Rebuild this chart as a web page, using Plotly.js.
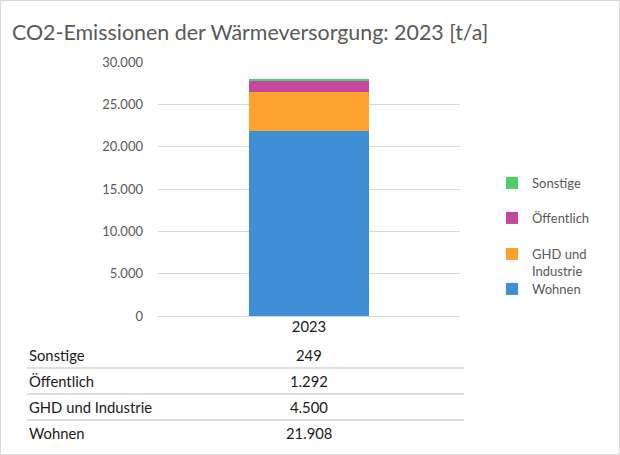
<!DOCTYPE html>
<html>
<head>
<meta charset="utf-8">
<script src="https://cdn.plot.ly/plotly-3.0.1.min.js"></script>
<style>
html,body{margin:0;padding:0;background:#fff;}
#chart{width:620px;height:455px;position:relative;}
#frame{position:absolute;left:0;top:0;width:618px;height:453px;border:1px solid #d9d9d9;pointer-events:none;}
</style>
</head>
<body>
<div id="chart"></div>
<div id="frame"></div>
<script>
const categories = ['2023'];
const seriesNames = ['Wohnen', 'GHD und Industrie', 'Öffentlich', 'Sonstige'];
const legendLabels = ['Wohnen', 'GHD und<br>Industrie', 'Öffentlich', 'Sonstige'];
const wohnen = [21908];
const ghd = [4500];
const oeffentlich = [1292];
const sonstige = [249];
const yTickVals = [0, 5000, 10000, 15000, 20000, 25000, 30000];

const seriesValues = [wohnen, ghd, oeffentlich, sonstige];
const colors = ['#3f8fd6', '#ffa12e', '#c5479d', '#4dd06a'];
const FONT = 'Lato, "Open Sans", sans-serif';

// plot area geometry (pixels)
const L = 158, R = 160, T = 62, B = 139;
const W = 620 - L - R, H = 455 - T - B;
const px = x => (x - L) / W;
const py = y => (455 - B - y) / H;

function fmt(v) {
  return String(Math.round(v)).replace(/\B(?=(\d{3})+(?!\d))/g, '.');
}

const legendNames = ['legend4', 'legend3', 'legend2', 'legend'];
const legendY = [289, 254, 218, 183];

const traces = seriesValues.map((vals, i) => ({
  type: 'bar',
  x: categories,
  y: vals,
  name: legendLabels[i],
  marker: {color: colors[i], line: {width: 0}},
  width: 0.4,
  legend: legendNames[i],
  hoverinfo: 'skip'
}));

const layout = {
  width: 620,
  height: 455,
  barmode: 'stack',
  separators: ',.',
  paper_bgcolor: '#ffffff',
  plot_bgcolor: '#ffffff',
  margin: {l: L, r: R, t: T, b: B},
  font: {family: FONT, color: '#595959'},
  title: {
    text: 'CO2-Emissionen der Wärmeversorgung: 2023 [t/a]',
    x: 12 / 620, xref: 'container', xanchor: 'left',
    y: 1 - 33 / 455, yref: 'container', yanchor: 'middle',
    font: {family: FONT, size: 21.4, color: '#595959'}
  },
  xaxis: {
    type: 'category',
    range: [-0.5, 0.5],
    showgrid: false,
    showline: false,
    zeroline: false,
    ticks: '',
    tickfont: {family: FONT, size: 14.8, color: '#1a1a1a'},
    fixedrange: true
  },
  yaxis: {
    range: [0, 30000],
    tickvals: yTickVals,
    tickformat: ',d',
    showgrid: true,
    gridcolor: '#d9d9d9',
    gridwidth: 1,
    zeroline: true,
    zerolinecolor: '#d9d9d9',
    zerolinewidth: 1,
    showline: false,
    ticks: '',
    ticklabelstandoff: 14,
    tickfont: {family: FONT, size: 13, color: '#595959'},
    fixedrange: true
  },
  showlegend: true,
  annotations: [],
  shapes: []
};

legendNames.forEach((ln, i) => {
  layout[ln] = {
    x: px(492), xanchor: 'left',
    y: py(legendY[i] - 15), yanchor: 'top',
    bgcolor: 'rgba(0,0,0,0)',
    font: {family: FONT, size: 13, color: '#595959'},
    valign: 'top',
    itemwidth: 30,
    itemclick: false,
    itemdoubleclick: false
  };
});

// data table below the chart
const tableOrder = [3, 2, 1, 0];
const rowY = [355, 381, 407, 433];
tableOrder.forEach((si, r) => {
  layout.annotations.push({
    xref: 'paper', yref: 'paper',
    x: px(27), y: py(rowY[r]),
    xanchor: 'left', yanchor: 'middle',
    text: seriesNames[si], showarrow: false,
    font: {family: FONT, size: 14.8, color: '#1a1a1a'}
  });
  layout.annotations.push({
    xref: 'x', yref: 'paper',
    x: categories.indexOf(categories[0]), y: py(rowY[r]),
    xanchor: 'center', yanchor: 'middle',
    text: fmt(seriesValues[si][0]), showarrow: false,
    font: {family: FONT, size: 14.8, color: '#1a1a1a'}
  });
});
[368, 394, 420].forEach(yy => {
  layout.shapes.push({
    type: 'line', xref: 'paper', yref: 'paper',
    x0: px(27), x1: px(464), y0: py(yy), y1: py(yy),
    line: {color: '#bfbfbf', width: 1}
  });
});

Plotly.newPlot('chart', traces, layout, {displayModeBar: false, staticPlot: true});
</script>
</body>
</html>
